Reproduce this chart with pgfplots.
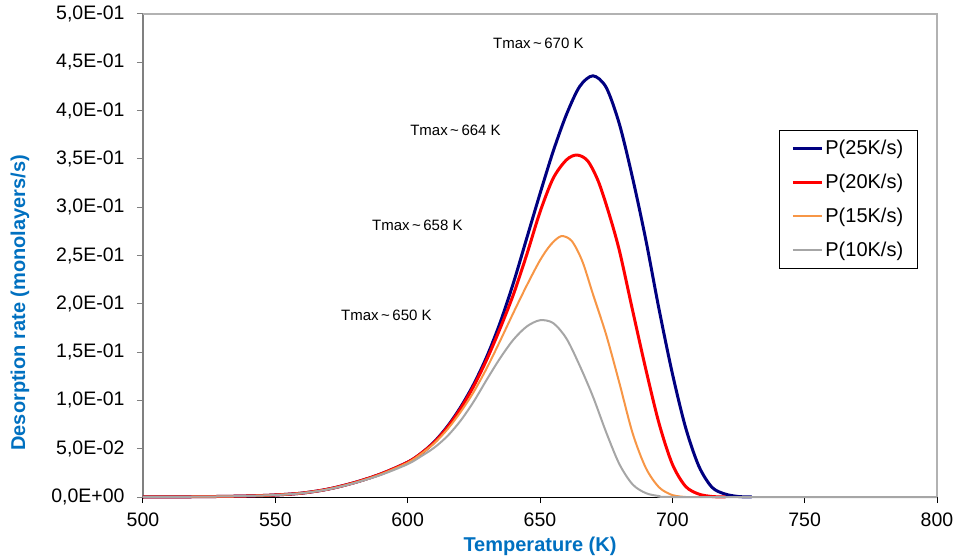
\documentclass[border=0pt]{standalone}
\usepackage{pgfplots}
\pgfplotsset{compat=1.18}
\usepackage{fontspec}
\setmainfont{Liberation Sans}
\definecolor{c25}{RGB}{0,0,128}
\definecolor{c20}{RGB}{255,0,0}
\definecolor{c15}{RGB}{247,150,70}
\definecolor{c10}{RGB}{166,166,166}
\definecolor{labblue}{RGB}{0,112,192}
\begin{document}
\begin{tikzpicture}
\begin{axis}[
  scale only axis,
  width=794bp, height=483bp,
  xmin=500, xmax=800, ymin=0, ymax=0.5,
  clip=false,
  axis x line*=bottom, axis y line*=left,
  x axis line style={-, black, line width=1bp},
  y axis line style={-, gray, line width=1.5bp},
  tick align=outside,
  major tick length=6bp,
  xtick={500,550,...,800},
  ytick={0,0.05,0.1,0.15,0.2,0.25,0.3,0.35,0.4,0.45,0.5},
  yticklabels={{0,0E+00},{5,0E-02},{1,0E-01},{1,5E-01},{2,0E-01},{2,5E-01},{3,0E-01},{3,5E-01},{4,0E-01},{4,5E-01},{5,0E-01}},
  xtick style={black, line width=1bp},
  ytick style={gray, line width=1bp},
  /pgf/number format/assume math mode=true,
  /pgf/number format/set thousands separator={},
  tick label style={font=\fontsize{19.5bp}{22bp}\selectfont},
  yticklabel style={xshift=-9bp},
  xticklabel style={yshift=-6bp},
  xlabel={Temperature (K)},
  ylabel={Desorption rate (monolayers/s)},
  every axis x label/.style={at={(axis description cs:0.5,-0.1015)}, anchor=center, font=\fontsize{20bp}{24bp}\selectfont\bfseries, text=labblue},
  every axis y label/.style={at={(axis description cs:-0.155,0.402)}, anchor=center, rotate=90, font=\fontsize{20bp}{24bp}\selectfont\bfseries, text=labblue},
  legend style={at={(0.801,0.760)}, anchor=north west, draw=black, line width=0.8bp,
    font=\fontsize{20bp}{24bp}\selectfont, row sep=14bp, inner xsep=12bp, inner ysep=8bp},
  legend cell align=left,
  legend image code/.code={\draw[#1] (0bp,0bp) -- (29bp,0bp);},
]
\draw[gray!60, line width=1.5bp] (rel axis cs:0,1) -- (rel axis cs:1,1) -- (rel axis cs:1,0);

\addplot[c25, line width=3bp, smooth] coordinates {
(500,0) (510,0.0001) (520,0.0003) (530,0.0006) (540,0.0011) (550,0.0021) (560,0.0040) (570,0.0082) (580,0.0150) (590,0.0240) (600,0.0360) (605,0.0450) (610,0.0570) (615,0.0730) (620,0.0930) (625,0.1170) (630,0.1460) (635,0.1810) (640,0.2220) (645,0.2680) (650,0.3140) (655,0.3580) (660,0.3960) (665,0.4250) (670,0.4360) (675,0.4240) (680,0.3860) (685,0.3300) (690,0.2660) (695,0.1940) (700,0.1280) (705,0.0720) (710,0.0320) (715,0.0100) (720,0.0030) (725,0.0005) (730,0)
};
\addlegendentry{P(25K/s)}
\addplot[c20, line width=3bp, smooth] coordinates {
(500,0) (510,0.0001) (520,0.0003) (530,0.0006) (540,0.0011) (550,0.0021) (560,0.0040) (570,0.0082) (580,0.0150) (590,0.0240) (600,0.0360) (605,0.0450) (610,0.0565) (615,0.0720) (620,0.0915) (625,0.1150) (630,0.1430) (635,0.1750) (640,0.2100) (645,0.2510) (650,0.2950) (655,0.3300) (660,0.3490) (664,0.3540) (668,0.3480) (672,0.3270) (676,0.2940) (680,0.2550) (685,0.1930) (690,0.1320) (695,0.0760) (700,0.0340) (705,0.0110) (710,0.0030) (715,0.0005) (720,0)
};
\addlegendentry{P(20K/s)}
\addplot[c15, line width=2bp, smooth] coordinates {
(500,0) (510,0.0001) (520,0.0003) (530,0.0006) (540,0.0011) (550,0.0021) (560,0.0040) (570,0.0081) (580,0.0148) (590,0.0237) (600,0.0355) (605,0.0445) (610,0.0555) (615,0.0700) (620,0.0880) (625,0.1090) (630,0.1340) (635,0.1620) (640,0.1910) (645,0.2190) (650,0.2450) (654,0.2610) (658,0.2700) (662,0.2650) (666,0.2440) (670,0.2100) (675,0.1680) (680,0.1180) (685,0.0660) (690,0.0300) (695,0.0100) (700,0.0020) (705,0)
};
\addlegendentry{P(15K/s)}
\addplot[c10, line width=2bp, smooth] coordinates {
(500,0) (510,0.0001) (520,0.0003) (530,0.0006) (540,0.0011) (550,0.0020) (560,0.0039) (570,0.0079) (580,0.0145) (590,0.0230) (600,0.0340) (605,0.0420) (610,0.0510) (615,0.0630) (620,0.0790) (625,0.0990) (630,0.1220) (635,0.1440) (640,0.1630) (645,0.1765) (650,0.1830) (655,0.1800) (660,0.1640) (665,0.1360) (670,0.1040) (675,0.0670) (680,0.0340) (685,0.0130) (690,0.0040) (695,0.0010) (700,0) (750,0) (800,0)
};
\addlegendentry{P(10K/s)}

\node[anchor=west, font=\fontsize{15bp}{18bp}\selectfont, inner sep=0pt] at (axis cs:632.2,0.470) {Tmax\,\textasciitilde\,670 K};
\node[anchor=west, font=\fontsize{15bp}{18bp}\selectfont, inner sep=0pt] at (axis cs:600.9,0.380) {Tmax\,\textasciitilde\,664 K};
\node[anchor=west, font=\fontsize{15bp}{18bp}\selectfont, inner sep=0pt] at (axis cs:586.5,0.2816) {Tmax\,\textasciitilde\,658 K};
\node[anchor=west, font=\fontsize{15bp}{18bp}\selectfont, inner sep=0pt] at (axis cs:574.8,0.1884) {Tmax\,\textasciitilde\,650 K};
\end{axis}
\pgfresetboundingbox
\path (current axis.south west) ++(-143bp,-60bp) rectangle ++(954bp,557bp);
\end{tikzpicture}
\end{document}
